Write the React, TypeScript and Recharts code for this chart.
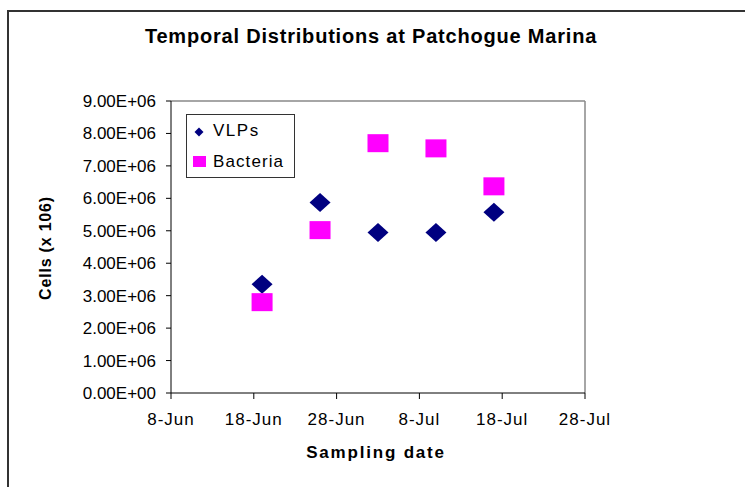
import React from 'react';
import { ScatterChart, Scatter, XAxis, YAxis, ReferenceLine, Legend } from 'recharts';

// sampling dates shared by both series
const SAMPLE_DATES = ['19-Jun', '26-Jun', '3-Jul', '10-Jul', '17-Jul'];
const VLP_COUNTS = [3.35e6, 5.87e6, 4.95e6, 4.95e6, 5.57e6];
const BACTERIA_COUNTS = [2.8e6, 5.02e6, 7.7e6, 7.54e6, 6.37e6];

const X_TICK_LABELS = ['8-Jun', '18-Jun', '28-Jun', '8-Jul', '18-Jul', '28-Jul'];
const Y_TICKS = [0, 1e6, 2e6, 3e6, 4e6, 5e6, 6e6, 7e6, 8e6, 9e6];

const NAVY = '#000080';
const MAGENTA = '#FF00FF';
const FONT = '"Liberation Sans", Arial, sans-serif';

// day of year offsets (non-leap year)
const MONTH_OFFSET: Record<string, number> = { Jun: 151, Jul: 181 };

const toDay = (label: string) => {
  const [d, m] = label.split('-');
  return MONTH_OFFSET[m] + Number(d);
};

const xTicks = X_TICK_LABELS.map(toDay);
const vlpData = SAMPLE_DATES.map((d, i) => ({ x: toDay(d), y: VLP_COUNTS[i] }));
const bacteriaData = SAMPLE_DATES.map((d, i) => ({ x: toDay(d), y: BACTERIA_COUNTS[i] }));

const formatY = (v: number) => (v === 0 ? '0.00E+00' : `${(v / 1e6).toFixed(2)}E+06`);
const formatX = (v: number) => X_TICK_LABELS[xTicks.indexOf(v)] ?? '';

const Diamond = (props: any) => {
  const { cx, cy } = props;
  return (
    <polygon
      points={`${cx},${cy - 9.5} ${cx + 10.5},${cy} ${cx},${cy + 9.5} ${cx - 10.5},${cy}`}
      fill={NAVY}
    />
  );
};

const Square = (props: any) => {
  const { cx, cy } = props;
  return <rect x={cx - 10.5} y={cy - 9} width={21} height={18} fill={MAGENTA} />;
};

const LegendBox = () => (
  <div
    style={{
      width: 107,
      height: 62,
      border: '1px solid #333',
      background: '#fff',
      fontFamily: FONT,
      fontSize: 17,
      color: '#000',
      position: 'relative',
    }}
  >
    <svg width={20} height={62} style={{ position: 'absolute', left: 0, top: 0 }}>
      <polygon points="12,12.5 16.5,17 12,21.5 7.5,17" fill={NAVY} />
      <rect x={6} y={41} width={13} height={11} fill={MAGENTA} />
    </svg>
    <div style={{ position: 'absolute', left: 26, top: 6, letterSpacing: 1.5 }}>VLPs</div>
    <div style={{ position: 'absolute', left: 26, top: 37, letterSpacing: 1.1 }}>Bacteria</div>
  </div>
);

export default function App() {
  return (
    <div style={{ position: 'absolute', left: 0, top: 0, width: 745, height: 487, background: '#fff' }}>
      <svg width={745} height={487} style={{ position: 'absolute', left: 0, top: 0 }}>
        <path d="M8 487 V11 H745" fill="none" stroke="#333" strokeWidth={2} />
        <text
          x={371}
          y={43}
          textAnchor="middle"
          fontFamily={FONT}
          fontWeight="bold"
          fontSize={20}
          letterSpacing={0.8}
          fill="#000"
        >
          Temporal Distributions at Patchogue Marina
        </text>
      </svg>
      <div style={{ position: 'absolute', left: 0, top: 0 }}>
        <ScatterChart width={745} height={487} margin={{ top: 101, right: 160, bottom: 64, left: 91 }}>
          <XAxis
            type="number"
            dataKey="x"
            domain={[xTicks[0], xTicks[xTicks.length - 1]]}
            ticks={xTicks}
            tickFormatter={formatX}
            height={30}
            stroke="#000"
            tickSize={6}
            tickMargin={14}
            tick={{ fill: '#000', fontSize: 17, fontFamily: FONT, letterSpacing: 1 }}
            interval={0}
            allowDataOverflow
            label={{
              content: () => (
                <text
                  x={376}
                  y={458}
                  textAnchor="middle"
                  fontFamily={FONT}
                  fontWeight="bold"
                  fontSize={17}
                  letterSpacing={1.8}
                  fill="#000"
                >
                  Sampling date
                </text>
              ),
            }}
          />
          <YAxis
            type="number"
            dataKey="y"
            domain={[0, 9e6]}
            ticks={Y_TICKS}
            tickFormatter={formatY}
            width={80}
            stroke="#000"
            tickSize={5}
            tickMargin={10}
            tick={{ fill: '#000', fontSize: 17, fontFamily: FONT }}
            interval={0}
            label={{
              content: () => (
                <text
                  x={45}
                  y={248}
                  transform="rotate(-90 45 248)"
                  textAnchor="middle"
                  dominantBaseline="central"
                  fontFamily={FONT}
                  fontWeight="bold"
                  fontSize={16}
                  letterSpacing={0.8}
                  fill="#000"
                >
                  Cells (x 106)
                </text>
              ),
            }}
          />
          <ReferenceLine y={9e6} stroke="#888" strokeWidth={1.5} />
          <ReferenceLine x={xTicks[xTicks.length - 1]} stroke="#888" strokeWidth={1.5} />
          <Legend
            layout="horizontal"
            verticalAlign="middle"
            align="center"
            content={() => <LegendBox />}
            wrapperStyle={{ left: 186, top: 114, width: 109, height: 64 }}
          />
          <Scatter name="VLPs" data={vlpData} shape={Diamond} isAnimationActive={false} />
          <Scatter name="Bacteria" data={bacteriaData} shape={Square} isAnimationActive={false} />
        </ScatterChart>
      </div>
    </div>
  );
}
